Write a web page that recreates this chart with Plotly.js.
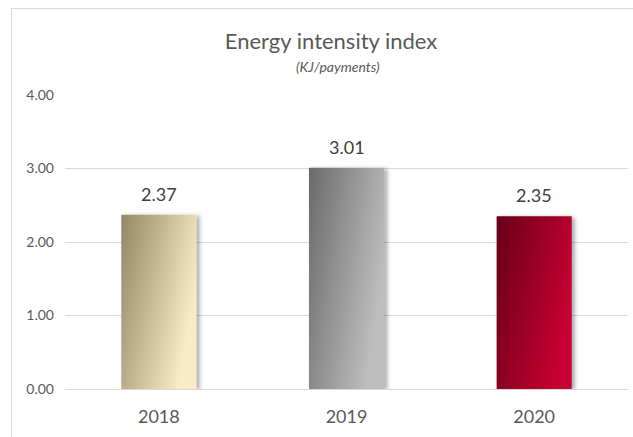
<!DOCTYPE html>
<html>
<head>
<meta charset="utf-8">
<script src="https://cdn.plot.ly/plotly-3.0.1.min.js"></script>
<style>
  html, body { margin: 0; padding: 0; background: #ffffff; }
  #frame { position: absolute; left: 11px; top: 8px; width: 640px; height: 450px;
           border: 1px solid #d9d9d9; box-sizing: border-box; }
  #chart { position: absolute; left: 0; top: 0; width: 633px; height: 437px; }
</style>
</head>
<body>
<div id="frame"></div>
<div id="chart"></div>
<script>
// ---- data ----
const years = ['2018', '2019', '2020'];
const intensity = [2.37, 3.01, 2.35];
const yTicks = [0, 1, 2, 3, 4];
const yTickLabels = ['0.00', '1.00', '2.00', '3.00', '4.00'];
const chartTitle = 'Energy intensity index';
const chartSubtitle = '(KJ/payments)';

// ---- styling ----
const barMid = ['#c9bc92', '#939393', '#94001f'];
const gradStops = [
  ['#938865', '#f8ebc5'],
  ['#6a6a6a', '#bdbdbd'],
  ['#67001a', '#c60030']
];

const trace = {
  type: 'bar',
  x: years,
  y: intensity,
  marker: { color: barMid, line: { width: 0 } },
  hoverinfo: 'skip'
};

const annotations = years.map((yr, i) => ({
  x: i, y: intensity[i], xref: 'x', yref: 'y',
  text: intensity[i].toFixed(2), showarrow: false,
  xanchor: 'center', yanchor: 'middle', yshift: 21,
  font: { family: 'Lato, sans-serif', size: 18, color: '#404040' }
}));
annotations.push({
  xref: 'paper', yref: 'paper', x: 0.485, y: 1.0 + (95 - 66) / 294,
  xanchor: 'center', yanchor: 'middle', showarrow: false,
  text: '<i>' + chartSubtitle + '</i>',
  font: { family: 'Lato, sans-serif', size: 14, color: '#595959' }
});

const layout = {
  width: 633, height: 437,
  margin: { l: 65, r: 5, t: 95, b: 48 },
  paper_bgcolor: 'rgba(0,0,0,0)',
  plot_bgcolor: 'rgba(0,0,0,0)',
  showlegend: false,
  bargap: 0.6,
  title: {
    text: chartTitle,
    x: 0.523, xanchor: 'center',
    y: 1 - 41 / 437, yanchor: 'middle', yref: 'container',
    font: { family: 'Lato, sans-serif', size: 22, color: '#595959' }
  },
  xaxis: {
    type: 'category',
    range: [-0.5, 2.5],
    showgrid: false, zeroline: false, showline: false,
    ticks: '',
    ticklabelstandoff: 15,
    tickfont: { family: 'Lato, sans-serif', size: 18, color: '#595959' }
  },
  yaxis: {
    range: [0, 4],
    tickvals: yTicks,
    ticktext: yTickLabels,
    showgrid: true, gridcolor: '#d9d9d9', gridwidth: 1,
    zeroline: true, zerolinecolor: '#d9d9d9', zerolinewidth: 1,
    showline: false, ticks: '',
    ticklabelstandoff: 10,
    tickfont: { family: 'Lato, sans-serif', size: 14, color: '#595959' }
  },
  annotations: annotations
};

Plotly.newPlot('chart', [trace], layout, { displayModeBar: false, staticPlot: true }).then(gd => {
  // add diagonal gradients and soft shadow to the bars drawn by Plotly
  const svg = gd.querySelector('svg.main-svg');
  const ns = 'http://www.w3.org/2000/svg';
  let defs = svg.querySelector('defs');
  if (!defs) { defs = document.createElementNS(ns, 'defs'); svg.insertBefore(defs, svg.firstChild); }
  gradStops.forEach((s, i) => {
    const g = document.createElementNS(ns, 'linearGradient');
    g.setAttribute('id', 'barGrad' + i);
    g.setAttribute('x1', '0'); g.setAttribute('y1', '0');
    g.setAttribute('x2', '1'); g.setAttribute('y2', '0.45');
    [[0, s[0]], [1, s[1]]].forEach(([o, c]) => {
      const st = document.createElementNS(ns, 'stop');
      st.setAttribute('offset', o); st.setAttribute('stop-color', c);
      g.appendChild(st);
    });
    defs.appendChild(g);
  });
  const f = document.createElementNS(ns, 'filter');
  f.setAttribute('id', 'barShadow');
  f.setAttribute('x', '-20%'); f.setAttribute('y', '-5%');
  f.setAttribute('width', '150%'); f.setAttribute('height', '115%');
  const ds = document.createElementNS(ns, 'feDropShadow');
  ds.setAttribute('dx', '3'); ds.setAttribute('dy', '1');
  ds.setAttribute('stdDeviation', '2');
  ds.setAttribute('flood-color', '#000'); ds.setAttribute('flood-opacity', '0.35');
  f.appendChild(ds);
  defs.appendChild(f);
  gd.querySelectorAll('.barlayer .point path').forEach((p, i) => {
    p.style.fill = 'url(#barGrad' + i + ')';
    p.setAttribute('filter', 'url(#barShadow)');
  });
});
</script>
</body>
</html>
